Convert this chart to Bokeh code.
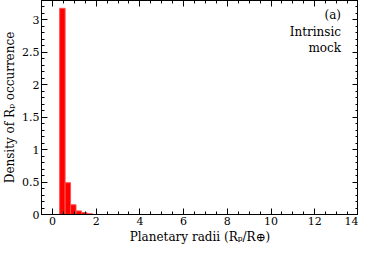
from bokeh.plotting import figure
from bokeh.models import LinearAxis, Range1d, Label, FixedTicker, ColumnDataSource, CustomLabelingPolicy
from bokeh.embed import file_html
from bokeh.resources import INLINE

# Histogram data (planetary radii, in Earth radii)
bin_left = [0.33, 0.58, 0.83, 1.08, 1.33, 1.58]
bin_right = [0.58, 0.83, 1.08, 1.33, 1.58, 1.83]
density = [3.18, 0.49, 0.15, 0.055, 0.03, 0.012]

x_major = [0, 2, 4, 6, 8, 10, 12, 14]
x_minor = [i * 0.5 for i in range(-1, 29)]
y_major = [0, 0.5, 1, 1.5, 2, 2.5, 3]
y_minor = [i * 0.1 for i in range(0, 34)]

FONT = "DejaVu Serif"

p = figure(width=358, height=246, output_backend="svg", toolbar_location=None,
           x_range=Range1d(-0.5, 14), y_range=Range1d(0, 3.3),
           x_axis_label="Planetary radii (Rₚ/R⊕)",
           y_axis_label="Density of Rₚ occurrence",
           min_border_left=37, min_border_right=0, min_border_top=0, min_border_bottom=0)
p.grid.visible = False
p.outline_line_color = "black"
p.outline_line_width = 1

src = ColumnDataSource(dict(left=bin_left, right=bin_right, top=density))
p.quad(left="left", right="right", bottom=0, top="top", source=src,
       fill_color="#ff0000", line_color="#ff5050", line_width=1)

no_labels = CustomLabelingPolicy(code="""
const a = Array.from(indices);
for (const i of a) indices.unset(i);
return indices;
""")

def style(ax, ticks, minors, labels=True):
    ax.ticker = FixedTicker(ticks=ticks, minor_ticks=minors)
    ax.major_tick_in = 6
    ax.major_tick_out = 0
    ax.minor_tick_in = 3
    ax.minor_tick_out = 0
    ax.major_tick_line_color = "black"
    ax.minor_tick_line_color = "black"
    ax.axis_line_color = "black"
    ax.major_label_text_font = FONT
    ax.major_label_text_font_size = "11px"
    ax.major_label_text_color = "black"
    ax.axis_label_text_font = FONT
    ax.axis_label_text_font_size = "12px"
    ax.axis_label_text_font_style = "normal"
    ax.axis_label_text_color = "black"
    ax.major_label_standoff = 2
    ax.axis_label_standoff = 2
    if not labels:
        ax.major_label_policy = no_labels
        ax.major_label_text_font_size = "0px"
        ax.major_label_standoff = 0
        ax.axis_label_standoff = 0

style(p.xaxis[0], x_major, x_minor)
style(p.yaxis[0], y_major, y_minor)
p.yaxis[0].major_label_overrides = {0: "0", 1: "1", 2: "2", 3: "3"}

top_ax = LinearAxis()
style(top_ax, x_major, x_minor, labels=False)
p.add_layout(top_ax, "above")
right_ax = LinearAxis()
style(right_ax, y_major, y_minor, labels=False)
p.add_layout(right_ax, "right")

for txt, yv in [("(a)", 3.07), ("Intrinsic", 2.82), ("mock", 2.57)]:
    p.add_layout(Label(x=13.2, y=yv, text=txt, text_align="right", text_baseline="middle",
                       text_font=FONT, text_font_size="12px", text_color="black"))

open("out.html", "w").write(file_html(p, INLINE))
